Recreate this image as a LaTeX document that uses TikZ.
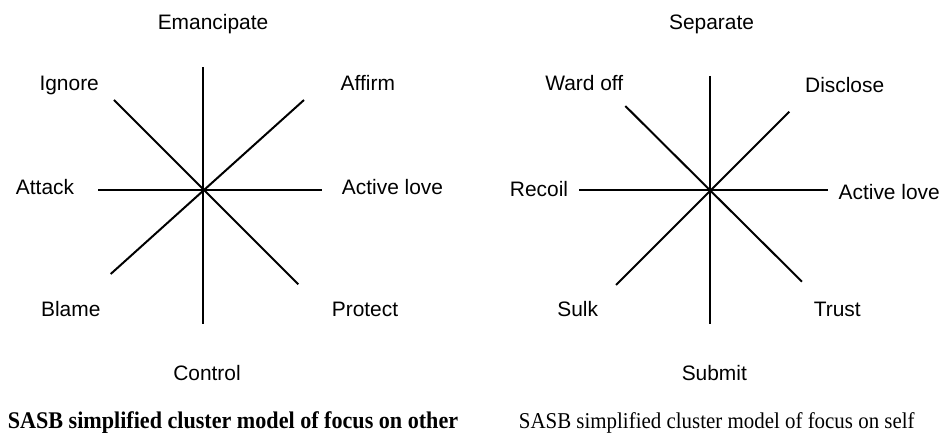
\documentclass[tikz,border=0pt]{standalone}
\usepackage{fontspec}
\setmainfont{Liberation Serif}
\setsansfont{Liberation Sans}
\newfontfamily\capfont[FakeStretch=0.925]{Liberation Serif}
\begin{document}
\begin{tikzpicture}[x=1bp,y=-1bp,line width=2bp,
	lbl/.style={anchor=base, inner sep=0pt, font=\sffamily\fontsize{21}{25}\selectfont},
	caption/.style={anchor=base, inner sep=0pt, font=\capfont\fontsize{22.7}{26}\selectfont}]
	\useasboundingbox (0,0) rectangle (942,433);
	% focus on other
	\coordinate (oN)  at (203.3,  67.3);
	\coordinate (oS)  at (203.3, 324.0);
	\coordinate (oW)  at ( 98.3, 190.0);
	\coordinate (oE)  at (321.7, 190.0);
	\coordinate (oNW) at (114.0, 100.0);
	\coordinate (oSE) at (298.3, 284.3);
	\coordinate (oNE) at (304.0, 100.0);
	\coordinate (oSW) at (110.7, 274.0);
	\draw (oN) -- (oS);
	\draw (oW) -- (oE);
	\draw (oNW) -- (oSE);
	\draw (oNE) -- (oSW);
	\node (Emancipate)	at (213.0,  30.0)	[lbl]	{Emancipate};
	\node (Ignore)		at ( 69.2,  90.7)	[lbl]	{Ignore};
	\node (Affirm)		at (367.8,  90.7)	[lbl]	{Affirm};
	\node (Attack)		at ( 45.0, 195.0)	[lbl]	{Attack};
	\node (LoveO)		at (392.5, 195.0)	[lbl]	{Active love};
	\node (Blame)		at ( 70.8, 317.0)	[lbl]	{Blame};
	\node (Protect)		at (365.0, 316.7)	[lbl]	{Protect};
	\node (Control)		at (207.0, 380.7)	[lbl]	{Control};
	\node (CapO)		at (233.0, 428.3)	[caption, font=\capfont\bfseries\fontsize{24}{28}\selectfont]	{SASB simplified cluster model of focus on other};
	% focus on self
	\coordinate (sN)  at (709.7,  76.0);
	\coordinate (sS)  at (709.7, 324.0);
	\coordinate (sW)  at (579.3, 190.0);
	\coordinate (sE)  at (827.7, 190.0);
	\coordinate (sNW) at (625.3, 106.0);
	\coordinate (sSE) at (802.0, 281.7);
	\coordinate (sNE) at (789.3, 111.7);
	\coordinate (sSW) at (616.0, 285.0);
	\draw (sN) -- (sS);
	\draw (sW) -- (sE);
	\draw (sNW) -- (sSE);
	\draw (sNE) -- (sSW);
	\node (Separate)	at (711.5,  30.0)	[lbl]	{Separate};
	\node (WardOff)		at (584.3,  90.7)	[lbl]	{Ward off};
	\node (Disclose)	at (844.7,  92.7)	[lbl]	{Disclose};
	\node (Recoil)		at (539.0, 196.7)	[lbl]	{Recoil};
	\node (LoveS)		at (889.2, 200.0)	[lbl]	{Active love};
	\node (Sulk)		at (577.7, 316.7)	[lbl]	{Sulk};
	\node (Trust)		at (837.3, 316.7)	[lbl]	{Trust};
	\node (Submit)		at (714.3, 380.7)	[lbl]	{Submit};
	\node (CapS)		at (716.8, 428.0)	[caption]	{SASB simplified cluster model of focus on self};
\end{tikzpicture}
\end{document}
